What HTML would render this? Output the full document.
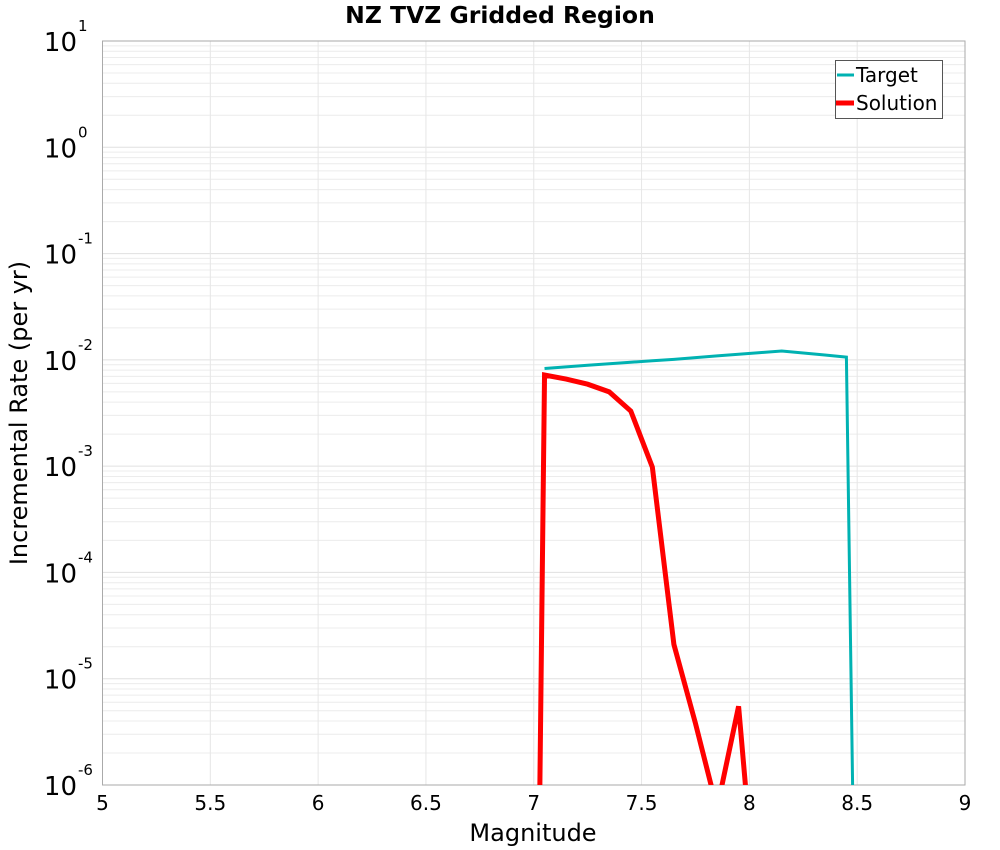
<!DOCTYPE html>
<html><head><meta charset="utf-8"><style>
html,body{margin:0;background:#fff;width:1000px;height:850px;overflow:hidden;position:relative;}
svg{display:block;}
svg text{font-family:"DejaVu Sans","Liberation Sans",sans-serif;}
</style></head><body>
<svg id="chart" width="1000" height="850" style="position:absolute;left:0;top:0"></svg>
<script>
const xTicks=[5,5.5,6,6.5,7,7.5,8,8.5,9];
const xTickLabels=["5","5.5","6","6.5","7","7.5","8","8.5","9"];
const yExps=[-6,-5,-4,-3,-2,-1,0,1];
const targetMags=[7.05,7.15,7.25,7.35,7.45,7.55,7.65,7.75,7.85,7.95,8.05,8.15,8.25,8.35,8.45,8.55];
const targetRates=[8.3e-3,8.6e-3,8.9e-3,9.2e-3,9.5e-3,9.8e-3,1.01e-2,1.05e-2,1.09e-2,1.13e-2,1.17e-2,1.21e-2,1.16e-2,1.11e-2,1.06e-2,1e-16];
const solMags=[6.95,7.05,7.15,7.25,7.35,7.45,7.55,7.65,7.75,7.85,7.95,8.05];
const solRates=[1e-20,7.2e-3,6.6e-3,5.9e-3,5.0e-3,3.3e-3,9.8e-4,2.1e-5,3.8e-6,6e-7,5.5e-6,2.5e-8];

const L=102.5,R=965,T=41,B=785;
const xS=v=>L+(v-5)/(9-5)*(R-L);
const yS=v=>B-(Math.log10(v)+6)/7*(B-T);
const svg=document.getElementById('chart');
const NS='http://www.w3.org/2000/svg';
function mk(t,a,p){const e=document.createElementNS(NS,t);for(const k in a)e.setAttribute(k,a[k]);(p||svg).appendChild(e);return e;}
const defs=mk('defs',{});const cp=mk('clipPath',{id:'pc'},defs);mk('rect',{x:L,y:T,width:R-L,height:B-T},cp);
const grid=mk('g',{});


for(let i=0;i<yExps.length-1;i++){for(let m=2;m<=9;m++){const y=yS(m*Math.pow(10,yExps[i]));mk('line',{x1:L,x2:R,y1:y,y2:y,stroke:'#ececec','stroke-width':1},grid);}}
yExps.forEach(e=>{const y=yS(Math.pow(10,e));mk('line',{x1:L,x2:R,y1:y,y2:y,stroke:'#e0e0e0','stroke-width':1},grid);});
xTicks.forEach(v=>{const x=xS(v);mk('line',{x1:x,x2:x,y1:T,y2:B,stroke:'#e6e6e6','stroke-width':1},grid);});
const fr=mk('rect',{x:L,y:T,width:R-L,height:B-T,fill:'none',stroke:'#aaa','stroke-width':1});


function line(ms,rs,col,w,name){const pts=ms.map((m,i)=>xS(m)+','+yS(rs[i])).join(' ');const p=mk('polyline',{points:pts,fill:'none',stroke:col,'stroke-width':w,'clip-path':'url(#pc)','stroke-linejoin':'miter'});}
line(targetMags,targetRates,'#00b2b2',3,'target-line');
line(solMags,solRates,'#ff0000',5,'solution-line');
xTicks.forEach((v,i)=>{const t=mk('text',{x:xS(v),y:810,'font-size':20,'text-anchor':'middle',fill:'#000'});t.textContent=xTickLabels[i];});
yExps.forEach(e=>{const y=yS(Math.pow(10,e));const t=mk('text',{x:77,y:y+10,'font-size':26,'text-anchor':'end',fill:'#000'});t.textContent='10';const s=mk('text',{x:78,y:y-10,'font-size':15,'text-anchor':'start',fill:'#000'});s.textContent=String(e);});
</script>
<svg width="1000" height="850" style="position:absolute;left:0;top:0">
<text x="500" y="23" font-size="23.5" font-weight="bold" text-anchor="middle">NZ TVZ Gridded Region</text>
<text x="533" y="841" font-size="24" text-anchor="middle">Magnitude</text>
<text transform="translate(27,413) rotate(-90)" font-size="24" text-anchor="middle">Incremental Rate (per yr)</text>
<g>
<rect x="835.5" y="60.5" width="107" height="58" fill="#fff" stroke="#555" stroke-width="1"/>
<line x1="837" x2="854" y1="75" y2="75" stroke="#00b2b2" stroke-width="3"/>
<text x="856" y="82" font-size="20">Target</text>
<line x1="836" x2="854" y1="103" y2="103" stroke="#ff0000" stroke-width="5"/>
<text x="856" y="110" font-size="20">Solution</text>
</g>
</svg>
</body></html>
